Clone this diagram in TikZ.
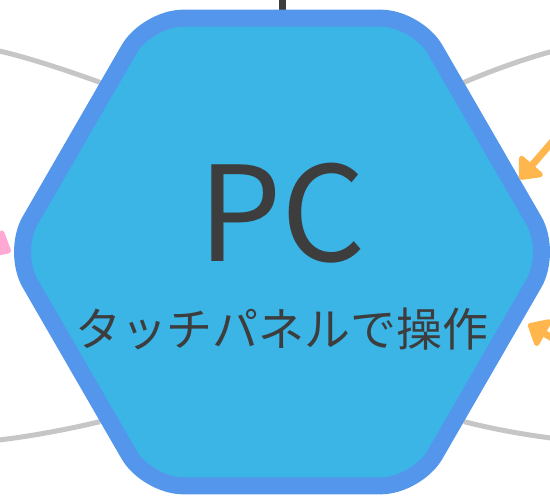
\documentclass[tikz,border=0pt]{standalone}
\usepackage{fontspec}
\setmainfont{Noto Sans CJK JP}
\usetikzlibrary{shapes.geometric,arrows.meta,backgrounds}
\definecolor{hexfill}{HTML}{3AB5E6}
\definecolor{hexline}{HTML}{5396EC}
\definecolor{textgray}{HTML}{3D3D3D}
\definecolor{linkgray}{HTML}{C6C6C6}
\definecolor{orangearrow}{HTML}{FFB74D}
\definecolor{pinkarrow}{HTML}{FFA8D4}

\begin{document}
\begin{tikzpicture}[x=1pt,y=1pt,
  hexnode/.style={regular polygon,regular polygon sides=6,minimum size=540pt,inner sep=0pt,
    fill=hexfill,draw=hexline,line width=17pt,rounded corners=36pt},
  link/.style={draw=linkgray,line width=5pt},
  feed/.style={line width=7pt,-{Triangle[round,length=21pt,width=35pt]}}]
\useasboundingbox (0,0) rectangle (550,496);
\node[hexnode] (pc) at (282,244) {};
\node[anchor=base,text=textgray,font=\fontsize{132}{132}\selectfont] (pcname) at ([yshift=-10pt]pc.center) {PC};
\node[anchor=base,text=textgray,font=\fontsize{46}{46}\selectfont] (pcnote) at ([yshift=-95pt]pc.center) {タッチパネルで操作};
% links behind the hexagon
\begin{scope}[on background layer]
\coordinate (up) at (282,530);
\coordinate (tl) at (-10,447);
\coordinate (tr) at (575,450);
\coordinate (bl) at (-10,55);
\coordinate (br) at (575,55);
\draw[draw=textgray,line width=7pt] (pc.north) -- (up);
\draw[link] (pc.137) .. controls (60,428) and (20,441) .. (tl);
\draw[link] (pc.43) .. controls (505,431) and (545,444) .. (tr);
\draw[link] (pc.223) .. controls (61,65) and (20,58) .. (bl);
\draw[link] (pc.317) .. controls (505,64) and (540,59) .. (br);
\end{scope}
% incoming arrows
\coordinate (srcA) at (572,377);
\coordinate (srcB) at (598,132);
\coordinate (srcC) at (-59,282);
\draw[feed,orangearrow] (srcA) -- (pc.17);
\draw[feed,orangearrow,shorten >=7pt] (srcB) -- (pc.-16);
\draw[feed,pinkarrow] (srcC) -- ([xshift=8.5pt]pc.180);
\end{tikzpicture}
\end{document}
